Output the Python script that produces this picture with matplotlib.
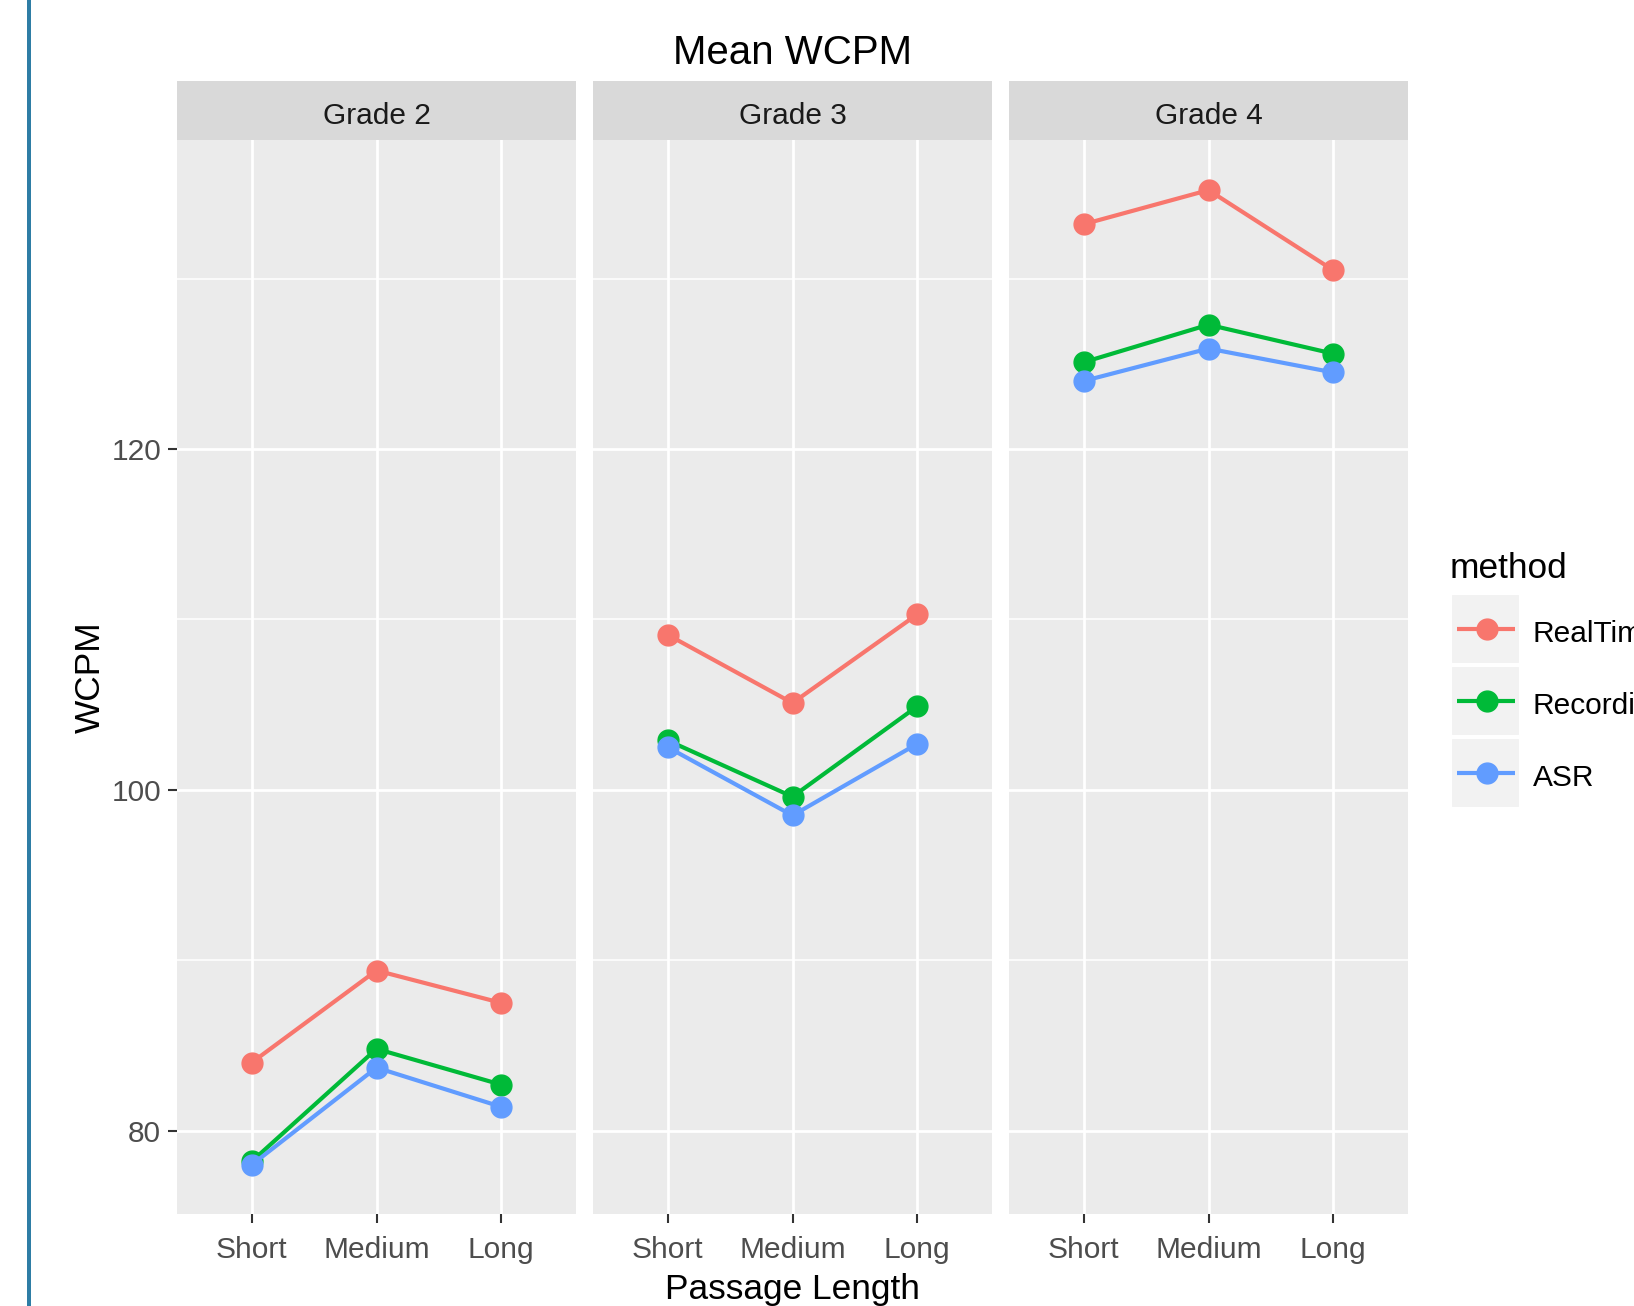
import matplotlib
matplotlib.use("Agg")
import matplotlib.pyplot as plt
from matplotlib.patches import Rectangle
from matplotlib.lines import Line2D

plt.rcParams['font.family'] = ['Liberation Sans', 'DejaVu Sans']

# ---- data ----
grades = ["Grade 2", "Grade 3", "Grade 4"]
lengths = ["Short", "Medium", "Long"]
methods = ["RealTime", "Recording", "ASR"]
colors = ["#F8766D", "#00BA38", "#619CFF"]

realtime = [[84.0, 89.4, 87.5], [109.1, 105.1, 110.3], [133.2, 135.2, 130.5]]
recording = [[78.2, 84.8, 82.7], [102.9, 99.6, 104.9], [125.1, 127.3, 125.6]]
asr = [[78.0, 83.7, 81.4], [102.5, 98.5, 102.7], [124.0, 125.9, 124.5]]
series = [realtime, recording, asr]

y_major = [80, 100, 120]
y_minor = [90, 110, 130]

# ---- layout (pixels) ----
W, H = 1634, 1306
fig = plt.figure(figsize=(W / 100, H / 100), dpi=100)

panel_x0 = [177, 593, 1009]
panel_w = 399
strip_top, panel_top, panel_bot = 81, 140, 1214

def fx(px):
    return px / W

def fy(py):
    return 1 - py / H

small = 21.5
tick_col = "#4D4D4D"
axes = []
for gi, g in enumerate(grades):
    x0 = panel_x0[gi]
    ax = fig.add_axes([fx(x0), fy(panel_bot), panel_w / W, (panel_bot - panel_top) / H])
    ax.set_facecolor("#EBEBEB")
    for s in ax.spines.values():
        s.set_visible(False)
    ax.set_xlim(-0.6, 2.6)
    ax.set_ylim(75.11, 138.14)
    xs = list(range(len(lengths)))
    for yv in y_minor:
        ax.axhline(yv, color="white", lw=1.1, zorder=0.5)
    for yv in y_major:
        ax.axhline(yv, color="white", lw=2.0, zorder=0.6)
    for xv in xs:
        ax.axvline(xv, color="white", lw=2.0, zorder=0.6)
    for si, ser in enumerate(series):
        ax.plot(xs, ser[gi], color=colors[si], lw=3.0, marker="o", ms=15,
                solid_capstyle="butt", zorder=3 + si)
    ax.set_xticks(xs)
    ax.set_xticklabels(lengths)
    ax.set_yticks(y_major)
    if gi == 0:
        ax.set_yticklabels([str(v) for v in y_major])
    else:
        ax.tick_params(axis="y", left=False, labelleft=False)
    ax.tick_params(axis="both", direction="out", length=6.5, width=1.5,
                   color="#333333", labelcolor=tick_col, labelsize=small)
    ax.tick_params(axis="x", pad=9.5)
    ax.tick_params(axis="y", pad=5)
    axes.append(ax)

    # strip
    sax = fig.add_axes([fx(x0), fy(panel_top), panel_w / W, (panel_top - strip_top) / H])
    sax.set_facecolor("#D9D9D9")
    sax.set_xticks([]); sax.set_yticks([])
    for s in sax.spines.values():
        s.set_visible(False)
    sax.text(0.5, 0.40, g, ha="center", va="center", fontsize=small,
             color="#1A1A1A", transform=sax.transAxes)

# overlay axes in pixel coordinates for titles / legend / border
ov = fig.add_axes([0, 0, 1, 1], zorder=10)
ov.set_xlim(0, W); ov.set_ylim(H, 0)
ov.axis("off")
ov.patch.set_alpha(0)

# left blue border bar
ov.add_patch(Rectangle((27, 0), 4.5, H, color="#2E7DA5", lw=0))

cx = (panel_x0[0] + panel_x0[2] + panel_w) / 2
ov.text(cx, 64, "Mean WCPM", ha="center", va="baseline", fontsize=29, color="black")
ov.text(cx, 1299, "Passage Length", ha="center", va="baseline", fontsize=25.4, color="black")
ov.text(90, (panel_top + panel_bot) / 2, "WCPM", ha="center", va="center",
        rotation=90, fontsize=25.4, color="black")

# legend
ov.text(1450, 578, "method", ha="left", va="baseline", fontsize=25.4, color="black")
key_top = 594
key_h = 72
for mi, m in enumerate(methods):
    ytop = key_top + mi * key_h
    ov.add_patch(Rectangle((1451, ytop), 69, key_h - 2, facecolor="#F2F2F2",
                           edgecolor="white", lw=1.5))
    yc = ytop + (key_h - 2) / 2
    ov.add_line(Line2D([1457, 1515], [yc, yc], color=colors[mi], lw=3.0,
                       marker=None, solid_capstyle="butt"))
    ov.plot([1487], [yc], marker="o", ms=15, color=colors[mi], lw=0)
    ov.text(1533, yc + 5, m, ha="left", va="center", fontsize=small, color="black")

fig.savefig("out.png", dpi=100)
